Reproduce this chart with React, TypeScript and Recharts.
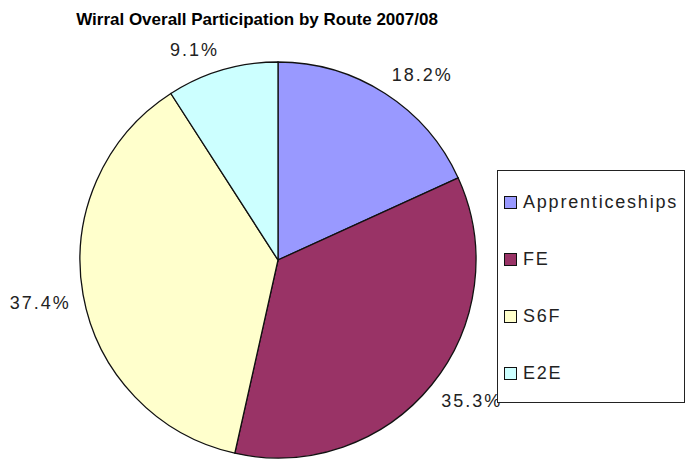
import { PieChart, Pie, Cell, Legend } from "recharts";

const ROUTES = ["Apprenticeships", "FE", "S6F", "E2E"];
const SHARES = [18.2, 35.3, 37.4, 9.1];

const ROUTE_COLORS: Record<string, string> = {
  Apprenticeships: "#9999FF",
  FE: "#993366",
  S6F: "#FFFFCC",
  E2E: "#CCFFFF",
};

const FONT = "'Liberation Sans', Arial, sans-serif";
const RAD = Math.PI / 180;

const chartData = ROUTES.map((name, i) => ({ name, value: SHARES[i] }));

const clamp = (v: number) => Math.max(-1, Math.min(1, v));

// Excel-style outside labels: the box corner nearest the pie sits just past the rim
function renderLabel(props: any) {
  const { cx, cy, midAngle, outerRadius, value } = props;
  const cos = Math.cos(-midAngle * RAD);
  const sin = Math.sin(-midAngle * RAD);
  const text = `${Number(value).toFixed(1)}%`;
  const w = text.length * 12;
  const h = 16;
  const r = outerRadius + 13;
  const x = cx + r * cos + (w / 2) * clamp(cos * 4);
  const y = cy + r * sin + (h / 2) * clamp(sin * 4);
  return (
    <text
      x={x}
      y={y}
      textAnchor="middle"
      dominantBaseline="central"
      fontFamily={FONT}
      fontSize={18}
      letterSpacing={2}
      fill="#222"
    >
      {text}
    </text>
  );
}

function LegendBox() {
  return (
    <div
      style={{
        width: 188,
        height: 233,
        border: "1px solid #222",
        background: "#fff",
        display: "flex",
        flexDirection: "column",
        justifyContent: "space-between",
        paddingTop: 21,
        paddingBottom: 18,
        boxSizing: "border-box",
      }}
    >
      {chartData.map((d) => (
        <div key={d.name} style={{ display: "flex", alignItems: "center", height: 20 }}>
          <span
            style={{
              display: "inline-block",
              width: 11,
              height: 11,
              marginLeft: 6,
              marginRight: 6,
              border: "1px solid #111",
              background: ROUTE_COLORS[d.name],
            }}
          />
          <span style={{ fontFamily: FONT, fontSize: 18, letterSpacing: 1.8, color: "#222" }}>
            {d.name}
          </span>
        </div>
      ))}
    </div>
  );
}

export default function App() {
  return (
    <div style={{ position: "absolute", left: 0, top: 0, width: 687, height: 460, background: "#fff" }}>
      <div
        style={{
          position: "absolute",
          left: 0,
          top: 10,
          width: 514,
          textAlign: "center",
          fontFamily: FONT,
          fontWeight: "bold",
          fontSize: 17,
          color: "#000",
        }}
      >
        Wirral Overall Participation by Route 2007/08
      </div>
      <PieChart width={687} height={460} margin={{ top: 0, right: 0, bottom: 0, left: 0 }}>
        <Pie
          data={chartData}
          dataKey="value"
          nameKey="name"
          cx={278}
          cy={260}
          outerRadius={198}
          startAngle={90}
          endAngle={-270}
          stroke="#111"
          strokeWidth={1.3}
          label={renderLabel}
          labelLine={false}
          isAnimationActive={false}
        >
          {chartData.map((entry) => (
            <Cell key={entry.name} fill={ROUTE_COLORS[entry.name]} />
          ))}
        </Pie>
        <Legend
          content={() => <LegendBox />}
          wrapperStyle={{ left: 497, top: 170, width: 188, height: 233, bottom: "auto", right: "auto" }}
        />
      </PieChart>
    </div>
  );
}
